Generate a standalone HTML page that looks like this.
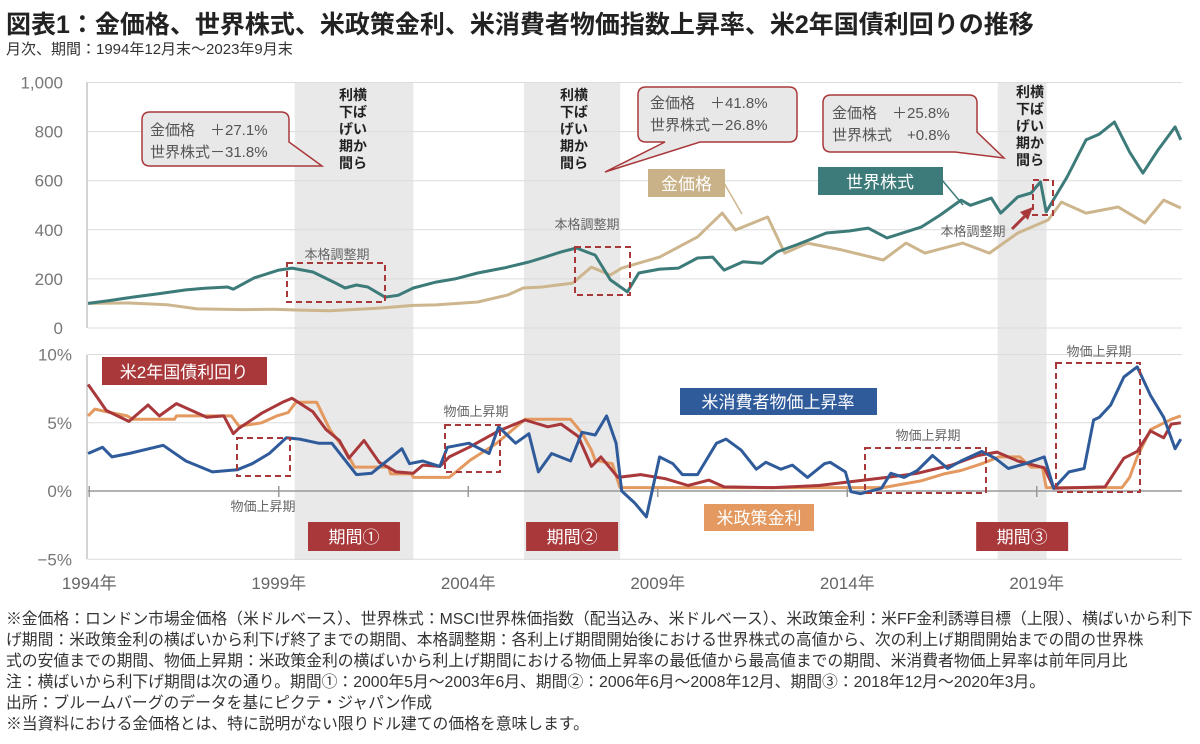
<!DOCTYPE html>
<html><head><meta charset="utf-8">
<style>
html,body{margin:0;padding:0;background:#fff;}
body{width:1200px;height:744px;overflow:hidden;position:relative;font-family:"Liberation Sans","Noto Sans CJK JP",sans-serif;color:#222;}
#title{position:absolute;left:6px;top:5px;font-size:25px;font-weight:bold;white-space:nowrap;}
#subtitle{position:absolute;left:6px;top:38px;font-size:15px;white-space:nowrap;color:#333;}
#notes{position:absolute;left:6px;top:609px;font-size:15.8px;line-height:21px;color:#333;white-space:nowrap;}
svg{position:absolute;left:0;top:0;}
</style></head>
<body>
<div id="title">図表1：金価格、世界株式、米政策金利、米消費者物価指数上昇率、米2年国債利回りの推移</div>
<div id="subtitle">月次、期間：1994年12月末～2023年9月末</div>
<svg id="chart" width="1200" height="744"></svg>
<div id="notes">
<div>※金価格：ロンドン市場金価格（米ドルベース）、世界株式：MSCI世界株価指数（配当込み、米ドルベース）、米政策金利：米FF金利誘導目標（上限）、横ばいから利下</div>
<div>げ期間：米政策金利の横ばいから利下げ終了までの期間、本格調整期：各利上げ期間開始後における世界株式の高値から、次の利上げ期間開始までの間の世界株</div>
<div>式の安値までの期間、物価上昇期：米政策金利の横ばいから利上げ期間における物価上昇率の最低値から最高値までの期間、米消費者物価上昇率は前年同月比</div>
<div>注：横ばいから利下げ期間は次の通り。期間①：2000年5月～2003年6月、期間②：2006年6月～2008年12月、期間③：2018年12月～2020年3月。</div>
<div>出所：ブルームバーグのデータを基にピクテ・ジャパン作成</div>
<div>※当資料における金価格とは、特に説明がない限りドル建ての価格を意味します。</div>
</div>
<script>
const goldT = [1994.92,1996.0,1997.0,1997.8,1999.0,1999.8,2000.5,2001.3,2002.5,2003.5,2004.1,2005.2,2006.0,2006.4,2006.9,2007.7,2008.2,2008.7,2009.0,2010.0,2011.0,2011.65,2012.0,2012.85,2013.3,2013.9,2014.8,2015.9,2016.5,2017.0,2018.0,2018.7,2019.45,2020.25,2020.6,2021.25,2022.1,2022.8,2023.3,2023.75];
const goldV = [100,102,95,78,75,76,73,70,80,92,94,106,135,163,167,183,248,216,244,289,371,468,399,452,305,346,318,277,346,305,346,305,387,440,513,468,493,428,521,489];
const stockT = [1994.92,1995.5,1996.1,1996.8,1997.5,1998.0,1998.6,1998.75,1999.3,1999.95,2000.3,2000.85,2001.4,2001.7,2002.0,2002.3,2002.75,2003.1,2003.5,2004.1,2004.6,2005.2,2005.9,2006.55,2007.0,2007.4,2007.8,2008.3,2008.7,2009.15,2009.45,2010.0,2010.5,2011.0,2011.4,2011.7,2012.2,2012.7,2013.1,2013.6,2014.4,2015.0,2015.5,2016.0,2016.9,2017.4,2017.95,2018.2,2018.75,2019.0,2019.45,2019.8,2020.05,2020.2,2020.75,2021.25,2021.6,2022.0,2022.4,2022.75,2023.15,2023.6,2023.75];
const stockV = [100,112,126,140,155,162,167,158,204,236,244,228,187,163,175,167,126,133,163,187,200,224,245,269,290,310,326,297,196,147,224,240,244,285,289,236,270,264,310,338,387,395,407,367,411,460,521,500,529,468,534,550,595,473,615,766,790,839,717,631,725,819,766];
const fedT = [1994.92,1995.1,1995.5,1995.95,1996.1,1997.2,1997.25,1998.7,1998.9,1999.5,1999.9,2000.2,2000.4,2000.95,2001.3,2001.7,2001.95,2002.85,2002.9,2003.45,2003.5,2004.45,2005.0,2005.7,2006.45,2007.65,2007.95,2008.2,2008.3,2008.75,2008.95,2015.9,2016.9,2017.5,2017.95,2018.5,2018.95,2019.5,2019.8,2020.1,2020.2,2022.2,2022.4,2022.6,2022.95,2023.5,2023.75];
const fedV = [5.5,6.0,5.75,5.5,5.25,5.25,5.5,5.5,4.75,5.0,5.5,5.75,6.5,6.5,4.5,3.0,1.75,1.75,1.25,1.25,1.0,1.0,2.25,3.5,5.25,5.25,4.25,3.0,2.25,2.0,0.25,0.25,0.75,1.25,1.5,2.0,2.5,2.5,1.75,1.75,0.25,0.25,1.0,2.5,4.5,5.25,5.5];
const yldT = [1994.92,1995.15,1995.4,1996.0,1996.5,1996.8,1997.25,1998.05,1998.5,1998.75,1998.9,1999.5,2000.05,2000.3,2000.85,2001.2,2001.55,2001.8,2002.2,2002.6,2003.05,2003.5,2003.75,2004.2,2004.45,2004.97,2005.75,2006.45,2007.05,2007.4,2007.85,2008.2,2008.45,2008.9,2009.5,2010.15,2010.75,2011.3,2011.7,2013.0,2014.2,2016.0,2016.8,2017.7,2018.4,2018.9,2019.45,2020.15,2020.4,2021.75,2022.25,2022.6,2022.95,2023.3,2023.5,2023.75];
const yldV = [7.8,6.9,5.9,5.1,6.3,5.5,6.4,5.4,5.5,4.2,4.6,5.7,6.5,6.8,5.8,4.5,3.7,2.4,3.7,2.1,1.4,1.3,1.9,1.8,2.5,3.2,4.4,5.2,4.7,4.9,4.0,1.8,2.5,1.0,1.2,0.9,0.4,0.8,0.3,0.25,0.4,1.0,1.3,1.9,2.6,2.85,2.2,1.7,0.2,0.3,2.4,2.9,4.4,3.9,4.9,5.0];
const cpiT = [1994.92,1995.3,1995.55,1996.0,1996.9,1997.5,1998.2,1998.85,1999.25,1999.7,2000.15,2000.5,2001.0,2001.35,2002.0,2002.4,2003.2,2003.4,2003.75,2004.2,2004.4,2004.97,2005.5,2005.75,2006.2,2006.55,2006.8,2007.15,2007.65,2007.95,2008.3,2008.6,2008.85,2009.0,2009.35,2009.65,2010.0,2010.35,2010.6,2011.0,2011.5,2011.75,2012.15,2012.55,2012.8,2013.2,2013.5,2013.9,2014.35,2014.5,2014.9,2015.05,2015.3,2015.85,2016.1,2016.45,2016.8,2017.2,2017.6,2017.95,2018.5,2018.85,2019.2,2019.65,2020.15,2020.4,2020.8,2021.2,2021.45,2021.6,2021.9,2022.25,2022.6,2022.95,2023.3,2023.6,2023.75];
const cpiV = [2.75,3.2,2.5,2.75,3.35,2.2,1.4,1.55,2.0,2.75,3.9,3.8,3.5,3.5,1.2,1.3,3.1,2.0,2.2,1.8,3.2,3.5,2.75,4.7,3.5,4.2,1.4,2.75,2.2,4.3,4.1,5.5,3.5,0.0,-0.9,-1.9,2.5,2.0,1.2,1.2,3.5,3.8,3.0,1.6,2.1,1.6,1.9,1.0,2.0,2.1,1.4,-0.05,-0.2,0.2,1.3,1.0,1.5,2.6,1.65,2.2,2.9,2.4,1.65,2.0,2.5,0.2,1.4,1.65,5.2,5.4,6.3,8.35,9.1,7.0,5.4,3.1,3.8];
const topTicks = [0,200,400,600,800,1000];
const topTickLabels = ["0","200","400","600","800","1,000"];
const botTicks = [10,5,0,-5];
const botTickLabels = ["10%","5%","0%","−5%"];
const yearTicks = [1994,1999,2004,2009,2014,2019];
const yearLabels = ["1994年","1999年","2004年","2009年","2014年","2019年"];
const easeStart = [2000.37,2006.42,2018.92];
const easeEnd = [2003.5,2008.96,2020.21];
const easeLabels = ["期間①","期間②","期間③"];

const NS="http://www.w3.org/2000/svg";
const svg=document.getElementById('chart');
const X=t=>88+(t-1994.917)*37.9;
const YT=v=>328-v*0.2455;
const YB=v=>491-v*13.65;
function el(tag,attrs,parent){const e=document.createElementNS(NS,tag);for(const k in attrs)e.setAttribute(k,attrs[k]);(parent||svg).appendChild(e);return e;}
function txt(s,attrs,parent){const e=el('text',attrs,parent);e.textContent=s;return e;}
const FONT='"Liberation Sans","Noto Sans CJK JP",sans-serif';

easeStart.forEach((s,i)=>{
  const r=el('rect',{x:X(s),y:82,width:X(easeEnd[i])-X(s),height:478,fill:'#e9e9e9'});
  
  
});
topTicks.forEach((v,i)=>{
  const g=el('line',{x1:88,x2:1182,y1:YT(v),y2:YT(v),stroke:'#dcdcdc','stroke-width':1});
  
  
  const t=txt(topTickLabels[i],{x:63,y:YT(v)+6,'text-anchor':'end','font-size':17,fill:'#777','font-family':FONT});
  
  
});
el('line',{x1:87,x2:87,y1:82,y2:328,stroke:'#aaa','stroke-width':1});
botTicks.forEach((v,i)=>{
  const g=el('line',{x1:88,x2:1182,y1:YB(v),y2:YB(v),stroke:v===0?'#999':'#dcdcdc','stroke-width':v===0?1.5:1});
  
  
  const t=txt(botTickLabels[i],{x:72,y:YB(v)+6,'text-anchor':'end','font-size':17,fill:'#777','font-family':FONT});
  
  
});
el('line',{x1:87,x2:87,y1:YB(10),y2:YB(-5),stroke:'#aaa','stroke-width':1});
yearTicks.forEach((y,i)=>{
  const x=X(y+0.95);
  el('line',{x1:x,x2:x,y1:486,y2:497,stroke:'#999','stroke-width':1.5});
  const t=txt(yearLabels[i],{x:x,y:589,'text-anchor':'middle','font-size':17,fill:'#666','font-family':FONT});
  
  
});
function line(T,V,Y,color,name){
  const d=T.map((t,i)=>(i?'L':'M')+X(t).toFixed(1)+','+Y(V[i]).toFixed(1)).join('');
  const p=el('path',{d:d,fill:'none',stroke:color,'stroke-width':3,'stroke-linejoin':'round'});
  
  
}
line(goldT,goldV,YT,'#cdb68e','gold-price-line');
line(stockT,stockV,YT,'#3c7b79','world-stock-line');
line(fedT,fedV,YB,'#e3995f','fed-rate-line');
line(yldT,yldV,YB,'#a9383b','us-2y-yield-line');
line(cpiT,cpiV,YB,'#2f5b9b','us-cpi-line');

easeStart.forEach((s,i)=>{
  const cx=(X(s)+X(easeEnd[i]))/2;
  const r=el('rect',{x:cx-46,y:522,width:92,height:29,fill:'#a9383b'});
  
  
  txt(easeLabels[i],{x:cx,y:543,'text-anchor':'middle','font-size':17,fill:'#fff','font-family':FONT});
});
</script>
<svg width="1200" height="744" style="position:absolute;left:0;top:0" font-family='"Liberation Sans","Noto Sans CJK JP",sans-serif'>
  <g font-size="14" font-weight="bold" fill="#222" text-anchor="middle">
    <text x="353" y="100">利横</text><text x="353" y="117">下ば</text><text x="353" y="134">げい</text><text x="353" y="151">期か</text><text x="353" y="168">間ら</text>
  </g>
  <g font-size="14" font-weight="bold" fill="#222" text-anchor="middle">
    <text x="574" y="100">利横</text><text x="574" y="117">下ば</text><text x="574" y="134">げい</text><text x="574" y="151">期か</text><text x="574" y="168">間ら</text>
  </g>
  <g font-size="14" font-weight="bold" fill="#222" text-anchor="middle">
    <text x="1030" y="97">利横</text><text x="1030" y="114">下ば</text><text x="1030" y="131">げい</text><text x="1030" y="148">期か</text><text x="1030" y="165">間ら</text>
  </g>
  <g>
    <path d="M150,112 H281 Q289,112 289,120 V142 L322,166 L270,166 H150 Q142,166 142,158 V120 Q142,112 150,112 Z" fill="#e8e8e8" stroke="#a9383b" stroke-width="1.5"/>
    <text x="150" y="135" font-size="15" fill="#555">金価格　＋27.1%</text>
    <text x="150" y="157" font-size="15" fill="#555">世界株式－31.8%</text>
  </g>
  <g>
    <path d="M646,87 H789 Q797,87 797,95 V134 Q797,142 789,142 H700 L605,172 L665,142 H646 Q638,142 638,134 V95 Q638,87 646,87 Z" fill="#e8e8e8" stroke="#a9383b" stroke-width="1.5"/>
    <text x="650" y="108" font-size="15" fill="#555">金価格　＋41.8%</text>
    <text x="650" y="130" font-size="15" fill="#555">世界株式－26.8%</text>
  </g>
  <g>
    <path d="M831,95 H969 Q977,95 977,103 V132 L1004,158 L955,152 H831 Q823,152 823,144 V103 Q823,95 831,95 Z" fill="#e8e8e8" stroke="#a9383b" stroke-width="1.5"/>
    <text x="832" y="118" font-size="15" fill="#555">金価格　＋25.8%</text>
    <text x="832" y="140" font-size="15" fill="#555">世界株式　+0.8%</text>
  </g>
  <g>
    <line x1="724" y1="183" x2="742" y2="214" stroke="#cdb68e" stroke-width="1.5"/>
    <rect x="648" y="169" width="77" height="28" fill="#c9b188"/>
    <text x="686.5" y="190" text-anchor="middle" font-size="17" fill="#fff">金価格</text>
  </g>
  <g>
    <line x1="942" y1="180" x2="963" y2="205" stroke="#3c7b79" stroke-width="1.5"/>
    <rect x="818" y="167" width="125" height="28" fill="#3c7b79"/>
    <text x="880" y="188" text-anchor="middle" font-size="17" fill="#fff">世界株式</text>
  </g>
  <g>
    <rect x="102" y="357" width="165" height="28" fill="#a9383b"/>
    <text x="184" y="378" text-anchor="middle" font-size="17" fill="#fff">米2年国債利回り</text>
  </g>
  <g>
    <rect x="680" y="388" width="197" height="27" fill="#2f5b9b"/>
    <text x="778" y="408" text-anchor="middle" font-size="17" fill="#fff">米消費者物価上昇率</text>
  </g>
  <g>
    <rect x="704" y="504" width="110" height="27" fill="#e3995f"/>
    <text x="759" y="524" text-anchor="middle" font-size="17" fill="#fff">米政策金利</text>
  </g>
  <g>
    <rect x="287" y="263" width="98" height="39" fill="none" stroke="#a9383b" stroke-width="2" stroke-dasharray="6,4"/>
    <text x="337" y="259" text-anchor="middle" font-size="13" fill="#666">本格調整期</text>
  </g>
  <g>
    <rect x="575" y="247" width="55" height="48" fill="none" stroke="#a9383b" stroke-width="2" stroke-dasharray="6,4"/>
    <text x="587" y="229" text-anchor="middle" font-size="13" fill="#666">本格調整期</text>
  </g>
  <g>
    <rect x="1033" y="180" width="20" height="35" fill="none" stroke="#a9383b" stroke-width="2" stroke-dasharray="6,4"/>
    <text x="973" y="236" text-anchor="middle" font-size="13" fill="#666">本格調整期</text>
    <line x1="1012" y1="229" x2="1027" y2="214" stroke="#a9383b" stroke-width="3"/>
    <path d="M1033,207 L1020,212 L1028,220 Z" fill="#a9383b"/>
  </g>
  <g>
    <rect x="237" y="438" width="53" height="38" fill="none" stroke="#a9383b" stroke-width="2" stroke-dasharray="6,4"/>
    <text x="263" y="511" text-anchor="middle" font-size="13" fill="#666">物価上昇期</text>
  </g>
  <g>
    <rect x="445" y="425" width="55" height="47" fill="none" stroke="#a9383b" stroke-width="2" stroke-dasharray="6,4"/>
    <text x="476" y="416" text-anchor="middle" font-size="13" fill="#666">物価上昇期</text>
  </g>
  <g>
    <rect x="865" y="448" width="121" height="45" fill="none" stroke="#a9383b" stroke-width="2" stroke-dasharray="6,4"/>
    <text x="928" y="440" text-anchor="middle" font-size="13" fill="#666">物価上昇期</text>
  </g>
  <g>
    <rect x="1056" y="363" width="84" height="129" fill="none" stroke="#a9383b" stroke-width="2" stroke-dasharray="6,4"/>
    <text x="1099" y="356" text-anchor="middle" font-size="13" fill="#666">物価上昇期</text>
  </g>
</svg>
</body></html>
